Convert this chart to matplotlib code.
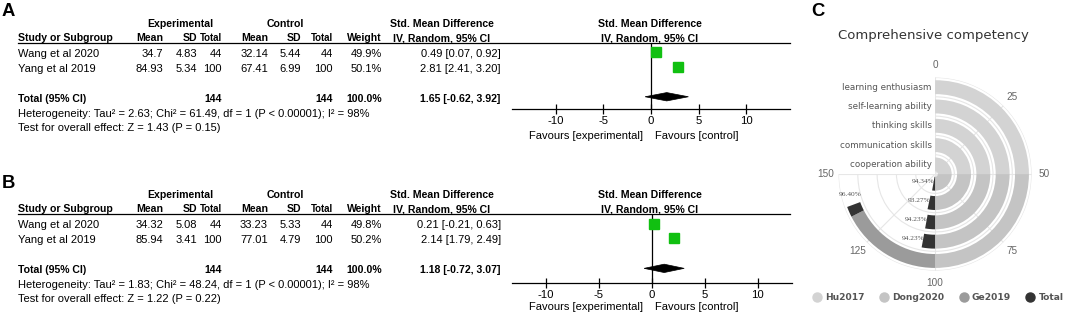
import matplotlib
matplotlib.use("Agg")
import matplotlib.pyplot as plt
import numpy as np
from matplotlib.lines import Line2D
from matplotlib.patches import Polygon

plt.rcParams["font.family"] = "Liberation Sans"
plt.rcParams["axes.unicode_minus"] = False

# ---- forest plot data (A and B) ----
studies = ["Wang et al 2020", "Yang et al 2019"]
exp_n = [44, 100]
ctl_n = [44, 100]

a_exp_mean = [34.7, 84.93]
a_exp_sd = [4.83, 5.34]
a_ctl_mean = [32.14, 67.41]
a_ctl_sd = [5.44, 6.99]
a_weight = [49.9, 50.1]
a_smd = [0.49, 2.81]
a_lo = [0.07, 2.41]
a_hi = [0.92, 3.20]
a_total = [1.65, -0.62, 3.92]
a_het = "Heterogeneity: Tau² = 2.63; Chi² = 61.49, df = 1 (P < 0.00001); I² = 98%"
a_test = "Test for overall effect: Z = 1.43 (P = 0.15)"

b_exp_mean = [34.32, 85.94]
b_exp_sd = [5.08, 3.41]
b_ctl_mean = [33.23, 77.01]
b_ctl_sd = [5.33, 4.79]
b_weight = [49.8, 50.2]
b_smd = [0.21, 2.14]
b_lo = [-0.21, 1.79]
b_hi = [0.63, 2.49]
b_total = [1.18, -0.72, 3.07]
b_het = "Heterogeneity: Tau² = 1.83; Chi² = 48.24, df = 1 (P < 0.00001); I² = 98%"
b_test = "Test for overall effect: Z = 1.22 (P = 0.22)"

forest_ticks = [-10, -5, 0, 5, 10]

# ---- radial chart data (C) ----
categories = ["cooperation ability", "communication skills", "thinking skills",
              "self-learning ability", "learning enthusiasm"]
hu2017 = [50, 50, 50, 50, 50]
dong2020 = [50, 50, 50, 50, 50]
ge2019 = [0, 0, 0, 0, 35]
total = [5.66, 6.73, 5.77, 5.77, 3.60]
total_labels = ["94.34%", "93.27%", "94.23%", "94.23%", "96.40%"]
angle_ticks = [0, 25, 50, 75, 100, 125, 150]
series_names = ["Hu2017", "Dong2020", "Ge2019", "Total"]
series_colors = ["#d3d3d3", "#c4c4c4", "#9b9b9b", "#333333"]

W, H = 1065, 315
fig = plt.figure(figsize=(W / 100, H / 100), dpi=100)
ov = fig.add_axes([0, 0, 1, 1])
ov.set_xlim(0, W)
ov.set_ylim(H, 0)
ov.axis("off")


def px_axes(x0, y0, x1, y1, **kw):
    return fig.add_axes([x0 / W, 1 - y1 / H, (x1 - x0) / W, (y1 - y0) / H], **kw)


FS = 8.0
FB = 7.6
cols = [163, 197, 222, 268, 301, 333, 382]


def table(dy, exp_mean, exp_sd, ctl_mean, ctl_sd, weight, smd, lo, hi, tot, het, test):
    t = lambda x, y, s, fs=FS, **kw: ov.text(x, y + dy, s, fontsize=fs, va="center", **kw)
    t(180, 24, "Experimental", fs=FB, ha="center", weight="bold")
    t(285, 24, "Control", fs=FB, ha="center", weight="bold")
    for xc in (442, 650):
        t(xc, 24, "Std. Mean Difference", fs=FB, ha="center", weight="bold")
        t(xc, 38.3, "IV, Random, 95% CI", fs=FB, ha="center", weight="bold")
    t(18, 38.3, "Study or Subgroup", fs=FB, ha="left", weight="bold")
    for x, s in zip(cols, ["Mean", "SD", "Total", "Mean", "SD", "Total", "Weight"]):
        t(x, 38.3, s, fs=(6.9 if s == "Total" else FB), ha="right", weight="bold")
    ov.plot([18, 790], [43.3 + dy, 43.3 + dy], color="black", lw=0.9)
    for i, name in enumerate(studies):
        y = 54 + 15.3 * i
        t(18, y, name, ha="left")
        vals = [f"{exp_mean[i]:g}", f"{exp_sd[i]:g}", f"{exp_n[i]}",
                f"{ctl_mean[i]:g}", f"{ctl_sd[i]:g}", f"{ctl_n[i]}", f"{weight[i]:.1f}%"]
        for x, s in zip(cols, vals):
            t(x, y, s, ha="right")
        t(500.7, y, f"{smd[i]:.2f} [{lo[i]:.2f}, {hi[i]:.2f}]", ha="right")
    t(18, 99, "Total (95% CI)", fs=FB, ha="left", weight="bold")
    t(cols[2], 99, f"{sum(exp_n)}", fs=FB, ha="right", weight="bold")
    t(cols[5], 99, f"{sum(ctl_n)}", fs=FB, ha="right", weight="bold")
    t(cols[6], 99, f"{sum(weight):.1f}%", fs=FB, ha="right", weight="bold")
    t(500.7, 99, f"{tot[0]:.2f} [{tot[1]:.2f}, {tot[2]:.2f}]", fs=FB, ha="right", weight="bold")
    t(18, 114, het, ha="left")
    t(18, 128.3, test, ha="left")
    t(643, 135.7, "Favours [experimental]", ha="right")
    t(655, 135.7, "Favours [control]", ha="left")


def forest(box, xl, ylim, smd, lo, hi, tot):
    ax = px_axes(*box)
    ax.set_xlim(-xl, xl)
    ax.set_ylim(*ylim)
    for s in ("left", "right", "top"):
        ax.spines[s].set_visible(False)
    ax.spines["bottom"].set_linewidth(0.9)
    ax.set_yticks([])
    ax.set_xticks(forest_ticks)
    ax.set_xticklabels([str(v) for v in forest_ticks])
    ax.tick_params(axis="x", direction="inout", length=7, width=0.9, labelsize=8.2, pad=1.5)
    ax.axvline(0, color="black", lw=0.9)
    rows = [0, 1]
    ax.hlines(rows, lo, hi, color="black", lw=0.8, zorder=2)
    ax.plot(smd, rows, "s", color="#11c011", markersize=6.6, zorder=3)
    est, l, h = tot
    ax.add_patch(Polygon([(l, 3), (est, 2.72), (h, 3), (est, 3.28)], closed=True,
                         facecolor="black", edgecolor="black", lw=0.5, zorder=3))
    ax.patch.set_alpha(0)


table(0, a_exp_mean, a_exp_sd, a_ctl_mean, a_ctl_sd, a_weight, a_smd, a_lo, a_hi, a_total, a_het, a_test)
table(171, b_exp_mean, b_exp_sd, b_ctl_mean, b_ctl_sd, b_weight, b_smd, b_lo, b_hi, b_total, b_het, b_test)
forest((511.7, 43.3, 790.3, 109.3), 14.6, (3.84, -0.58), a_smd, a_lo, a_hi, a_total)
forest((511.7, 214.3, 791.7, 282.7), 13.23, (3.96, -0.62), b_smd, b_lo, b_hi, b_total)

for x, y, s in [(8.5, 11.7, "A"), (8.5, 183, "B"), (818, 11.7, "C")]:
    ov.text(x, y, s, fontsize=13.3, weight="bold", ha="center", va="center")

# ---- panel C: stacked polar bars ----
cx, cy, R = 936, 175, 97.5
pax = px_axes(cx - R, cy - R, cx + R, cy + R, projection="polar")
pax.set_theta_zero_location("N")
pax.set_theta_direction(-1)
pax.set_thetalim(0, 1.5 * np.pi)
pax.set_rlim(0, 5)
k = np.pi / 100  # 200 value units = full turn
r = np.arange(len(categories))
left = np.zeros(len(categories))
for vals, c in zip([hu2017, dong2020, ge2019, total], series_colors):
    vals = np.array(vals, dtype=float)
    pax.bar(left * k, 0.72, width=vals * k, bottom=r + 0.14, align="edge",
            color=c, edgecolor="none", zorder=3)
    left = left + vals
pax.set_xticks(np.array(angle_ticks) * k)
pax.set_xticklabels([str(v) for v in angle_ticks])
pax.tick_params(axis="x", pad=2, labelsize=7.2, labelcolor="#666666", length=0)
pax.tick_params(axis="y", length=0)
pax.set_yticks([1, 2, 3, 4, 5])
pax.set_yticklabels([])
pax.grid(True, color="#e6e6e6", lw=0.8)
pax.spines[:].set_visible(False)
pax.set_frame_on(False)
pax.set_axisbelow(True)
for i, name in enumerate(categories):
    pax.annotate(name, xy=(0, i + 0.5), xytext=(-2.5, 0), textcoords="offset points",
                 ha="right", va="center", fontsize=6.3, color="#555555",
                 family="DejaVu Sans", annotation_clip=False)
for i, lab in enumerate(total_labels):
    th = left[i] * k
    d = 7.5
    pax.annotate(lab, xy=(th, i + 0.5), xytext=(d * np.cos(th), -d * np.sin(th)),
                 textcoords="offset points", ha="center", va="center",
                 fontsize=5.3, color="#555555", family="Liberation Serif",
                 annotation_clip=False, zorder=5)

ov.text(933, 35, "Comprehensive competency", ha="center", va="center",
        fontsize=9.5, family="DejaVu Sans", color="#333333")

handles = [Line2D([], [], marker="o", ls="", color=c, markersize=6.5) for c in series_colors]
fig.legend(handles, series_names, loc="center", bbox_to_anchor=(938 / W, 1 - 298 / H),
           ncol=4, frameon=False, handletextpad=0.4, columnspacing=1.6, handlelength=1,
           prop=dict(weight="bold", size=6.6, family="DejaVu Sans"), labelcolor="#555555")

fig.savefig("out.png", dpi=100)
